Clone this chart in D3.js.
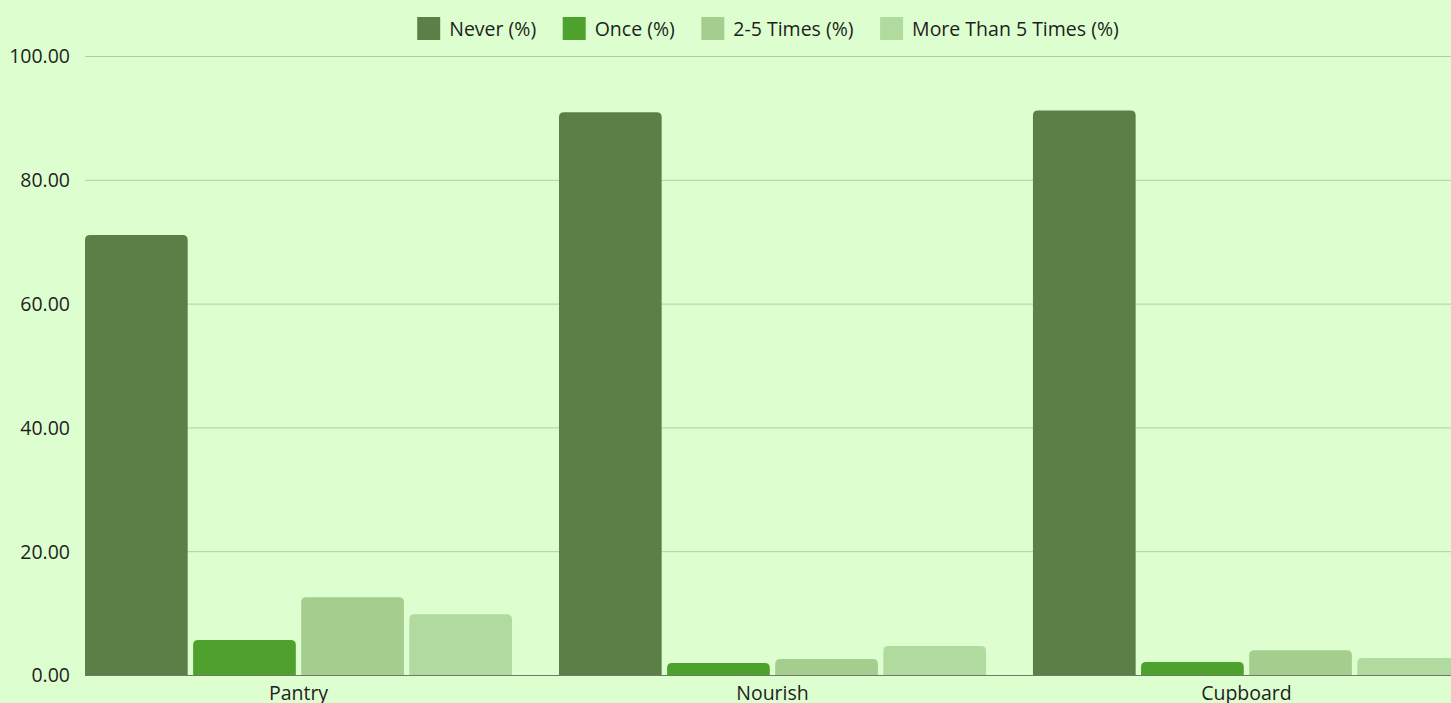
<!DOCTYPE html>
<html>
<head>
<meta charset="utf-8">
<script src="https://cdn.jsdelivr.net/npm/d3@7"></script>
<style>
  html, body { margin: 0; padding: 0; background: #ddffd0; overflow: hidden; }
  svg { display: block; font-family: "Open Sans", "Noto Sans", sans-serif; }
</style>
</head>
<body>
<svg id="chart" width="1451" height="703"></svg>
<script>
// Survey responses per service, as percentages
const categories = ["Pantry", "Nourish", "Cupboard"];
const seriesNames = ["Never (%)", "Once (%)", "2-5 Times (%)", "More Than 5 Times (%)"];
const never     = [71.1, 90.9, 91.2];
const once      = [5.65, 1.94, 2.1];
const twoToFive = [12.55, 2.58, 3.99];
const moreThan5 = [9.8, 4.68, 2.75];
const yTicks = [0, 20, 40, 60, 80, 100];
const colors = ["#5a8047", "#4fa12d", "#a4cd8e", "#b1da9f"];

const seriesValues = [never, once, twoToFive, moreThan5];
const rows = categories.map((c, i) => ({
  category: c,
  values: seriesNames.map((s, j) => ({ series: s, value: seriesValues[j][i], color: colors[j] }))
}));

const svg = d3.select("#chart");
const W = 1451, H = 703;
const plotLeft = 85, plotRight = 1451, bandRight = 1460;
const plotTop = 56, plotBottom = 675;
const fontSize = 19.5;

const x = d3.scaleBand().domain(categories).range([plotLeft, bandRight]).paddingInner(0.099).paddingOuter(0);
const xs = d3.scaleBand().domain(seriesNames).range([0, x.bandwidth()]).paddingInner(0.05);
const y = d3.scaleLinear().domain([0, 100]).range([plotBottom, plotTop]);

// Grid lines and y labels
const yAxis = d3.axisLeft(y).tickValues(yTicks).tickFormat(d3.format(".2f"))
  .tickSize(-(plotRight - plotLeft)).tickPadding(15);
const gy = svg.append("g").attr("transform", `translate(${plotLeft},0)`).call(yAxis);
gy.select(".domain").remove();
gy.selectAll(".tick line").attr("stroke", "#b3cca7").attr("stroke-width", 1);
gy.selectAll(".tick text").attr("fill", "#1e1e1e").attr("font-size", fontSize)
  .attr("font-family", "'Open Sans', 'Noto Sans', sans-serif").attr("dy", "0.35em");

// Bars with rounded tops
function topRounded(x0, y0, w, h, r) {
  r = Math.min(r, w / 2, h);
  return `M${x0},${y0 + h}V${y0 + r}Q${x0},${y0} ${x0 + r},${y0}H${x0 + w - r}Q${x0 + w},${y0} ${x0 + w},${y0 + r}V${y0 + h}Z`;
}

const groups = svg.append("g").selectAll("g").data(rows).join("g")
  .attr("transform", d => `translate(${x(d.category)},0)`);
groups.selectAll("path").data(d => d.values).join("path")
  .attr("fill", d => d.color)
  .attr("d", d => topRounded(xs(d.series), y(d.value), xs.bandwidth(), y(0) - y(d.value), 5));

// Baseline and category labels
const xAxis = d3.axisBottom(x).tickSize(0).tickPadding(11);
const gx = svg.append("g").attr("transform", `translate(0,${plotBottom})`).call(xAxis);
gx.select(".domain").attr("d", `M${plotLeft},0.5H${W}`).attr("stroke", "#6f7a69");
gx.selectAll(".tick text").attr("fill", "#1e1e1e").attr("font-size", fontSize)
  .attr("font-family", "'Open Sans', 'Noto Sans', sans-serif");

// Legend, centred over the plot area
const legend = svg.append("g");
const sw = 23, gapText = 9, gapItem = 26.5;
const items = legend.selectAll("g").data(seriesNames).join("g");
items.append("rect").attr("width", sw).attr("height", sw).attr("y", 17)
  .attr("fill", (d, i) => colors[i]);
items.append("text").text(d => d).attr("x", sw + gapText).attr("y", 36)
  .attr("font-size", fontSize).attr("fill", "#1e1e1e");
const widths = [];
items.each(function () {
  const w = sw + gapText + d3.select(this).select("text").node().getComputedTextLength();
  widths.push(w);
});
const total = d3.sum(widths) + gapItem * (widths.length - 1);
let start = (plotLeft + plotRight) / 2 - total / 2;
items.attr("transform", (d, i) => {
  const t = `translate(${start},0)`;
  start += widths[i] + gapItem;
  return t;
});
</script>
</body>
</html>
